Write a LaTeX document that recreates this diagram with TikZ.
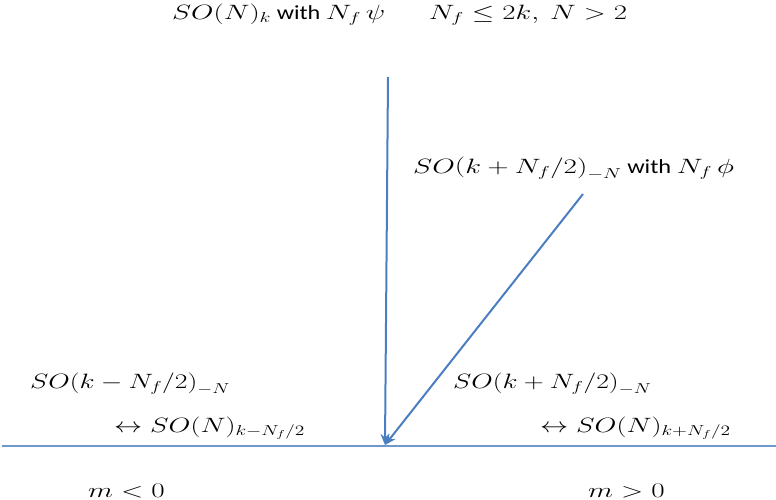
\documentclass[tikz,border=0pt]{standalone}
\usepackage{fontspec}
\setmainfont{Carlito}
\usepackage{graphicx}
\usetikzlibrary{arrows.meta}
\definecolor{lineblue}{RGB}{74,126,193}
\newcommand{\Mth}[1]{\scalebox{1.15}[1]{$#1$}}
\newcommand{\Wide}[2][1.22]{\scalebox{#1}[1]{#2}}
\begin{document}
\begin{tikzpicture}[x=1pt,y=-1pt,
  lbl/.style={inner sep=0pt,anchor=base west,font=\fontsize{20}{24}\selectfont},
  arr/.style={draw=lineblue,line width=2pt,-{Stealth[length=11pt,width=9pt]}},
  axis/.style={draw=lineblue!80,line width=1.1pt}]
\useasboundingbox (0,0) rectangle (776,500);
\coordinate (a1s) at (388,77);
\coordinate (a2s) at (583,194);
\coordinate (tip) at (385,445);
\coordinate (hl) at (2,446);
\coordinate (hr) at (776,446);
\draw[axis] (hl) -- (hr);
\draw[arr] (a1s) -- (tip);
\draw[arr] (a2s) -- (tip);
\node[lbl] (top) at (172,19.5) {\Wide[1.21]{\Mth{SO(N)_k} with \Mth{N_f\,\psi}\hspace{36pt}\Mth{N_f\le 2k,\ N>2}}};
\node[lbl] (diag) at (413,173) {\Wide{\Mth{SO\bigl(k+N_f/2\bigr)_{-N}} with \Mth{N_f\,\phi}}};
\node[lbl] (l1) at (30,388) {\Wide[1.16]{\Mth{SO\bigl(k-N_f/2\bigr)_{-N}}}};
\node[lbl] (l2) at (114,432) {\Wide[1.18]{\Mth{\leftrightarrow SO(N)_{k-N_f/2}}}};
\node[lbl] (r1) at (453,388) {\Wide[1.16]{\Mth{SO\bigl(k+N_f/2\bigr)_{-N}}}};
\node[lbl] (r2) at (540,432) {\Wide[1.18]{\Mth{\leftrightarrow SO(N)_{k+N_f/2}}}};
\node[lbl] (ml) at (88,497) {\Wide{\Mth{m<0}}};
\node[lbl] (mr) at (588,497) {\Wide{\Mth{m>0}}};
\end{tikzpicture}
\end{document}
